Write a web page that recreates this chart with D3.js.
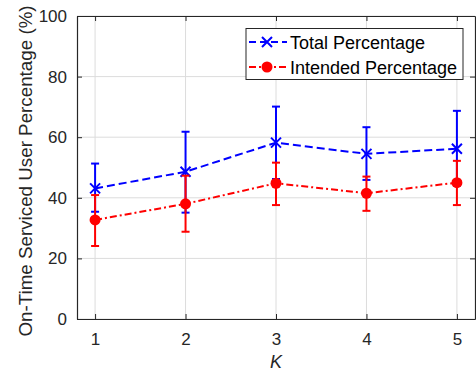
<!DOCTYPE html>
<html>
<head>
<meta charset="utf-8">
<script src="https://cdn.jsdelivr.net/npm/d3@7"></script>
<style>
  body { margin: 0; background: #fff; }
  svg { display: block; font-family: "Liberation Sans", Arial, Helvetica, sans-serif; }
</style>
</head>
<body>
<svg id="chart"></svg>
<script>
var kValues = [1, 2, 3, 4, 5];
var xTicks = [1, 2, 3, 4, 5];
var yTicks = [0, 20, 40, 60, 80, 100];

// total percentage: mean, lower, upper
var totalMean = [43.1, 48.6, 58.2, 54.5, 56.2];
var totalLow = [35.4, 35.1, 46.2, 45.9, 44.0];
var totalHigh = [51.3, 61.8, 70.1, 63.3, 68.7];

// intended percentage: mean, lower, upper
var intendedMean = [32.7, 38.0, 44.8, 41.5, 45.0];
var intendedLow = [24.1, 28.8, 37.6, 35.7, 37.6];
var intendedHigh = [40.9, 47.3, 51.6, 47.0, 52.2];

var seriesNames = ['Total Percentage', 'Intended Percentage'];

var width = 476,
    height = 373,
    plotLeft = 77,
    plotRight = 475,
    plotTop = 16,
    plotBottom = 319,
    axisColor = '#262626',
    gridColor = '#dcdcdc';

var svg = d3.select('#chart')
    .attr('width', width)
    .attr('height', height);

var x = d3.scaleLinear().domain([0.8, 5.2]).range([plotLeft, plotRight]);
var y = d3.scaleLinear().domain([0, 100]).range([plotBottom, plotTop]);

// grid
svg.append('g')
    .selectAll('line')
    .data(xTicks)
    .join('line')
    .attr('x1', function (d) { return x(d); })
    .attr('x2', function (d) { return x(d); })
    .attr('y1', plotTop)
    .attr('y2', plotBottom)
    .attr('stroke', gridColor)
    .attr('stroke-width', 1);

svg.append('g')
    .selectAll('line')
    .data(yTicks)
    .join('line')
    .attr('x1', plotLeft)
    .attr('x2', plotRight)
    .attr('y1', function (d) { return y(d); })
    .attr('y2', function (d) { return y(d); })
    .attr('stroke', gridColor)
    .attr('stroke-width', 1);

// axes (inward ticks, box)
svg.append('g')
    .attr('transform', 'translate(0,' + plotBottom + ')')
    .call(d3.axisBottom(x).tickValues(xTicks).tickFormat(d3.format('d'))
        .tickSizeInner(-5).tickSizeOuter(0).tickPadding(14));

svg.append('g')
    .attr('transform', 'translate(' + plotLeft + ',0)')
    .call(d3.axisLeft(y).tickValues(yTicks).tickFormat(d3.format('d'))
        .tickSizeInner(-5).tickSizeOuter(0).tickPadding(10));

svg.append('g')
    .attr('transform', 'translate(0,' + plotTop + ')')
    .call(d3.axisTop(x).tickValues(xTicks).tickSizeInner(-5).tickSizeOuter(0).tickFormat(''));

svg.append('g')
    .attr('transform', 'translate(' + plotRight + ',0)')
    .call(d3.axisRight(y).tickValues(yTicks).tickSizeInner(-5).tickSizeOuter(0).tickFormat(''));

svg.selectAll('.domain').attr('stroke', axisColor).attr('stroke-width', 1.2);
svg.selectAll('.tick line').attr('stroke', axisColor);
svg.selectAll('.tick text')
    .attr('fill', axisColor)
    .style('font-size', '17px')
    .style('font-family', '"Liberation Sans", Arial, sans-serif');

// axis labels
svg.append('text')
    .attr('x', x(3))
    .attr('y', 368)
    .attr('text-anchor', 'middle')
    .attr('fill', axisColor)
    .style('font-size', '18px')
    .style('font-style', 'italic')
    .text('K');

svg.append('text')
    .attr('transform', 'translate(32,171) rotate(-90)')
    .attr('text-anchor', 'middle')
    .attr('fill', axisColor)
    .style('font-size', '18.8px')
    .text('On-Time Serviced User Percentage (%)');

function drawErrorBars(low, high, color) {
    var g = svg.append('g');
    g.selectAll('line.bar')
        .data(kValues)
        .join('line')
        .attr('class', 'bar')
        .attr('x1', function (d) { return x(d); })
        .attr('x2', function (d) { return x(d); })
        .attr('y1', function (d, i) { return y(low[i]); })
        .attr('y2', function (d, i) { return y(high[i]); })
        .attr('stroke', color)
        .attr('stroke-width', 2);
    [low, high].forEach(function (arr) {
        g.append('g')
            .selectAll('line')
            .data(kValues)
            .join('line')
            .attr('x1', function (d) { return x(d) - 4; })
            .attr('x2', function (d) { return x(d) + 4; })
            .attr('y1', function (d, i) { return y(arr[i]); })
            .attr('y2', function (d, i) { return y(arr[i]); })
            .attr('stroke', color)
            .attr('stroke-width', 2);
    });
}

var line = d3.line()
    .x(function (d, i) { return x(kValues[i]); })
    .y(function (d) { return y(d); });

// total series
drawErrorBars(totalLow, totalHigh, '#0000ff');
svg.append('path')
    .datum(totalMean)
    .attr('d', line)
    .attr('fill', 'none')
    .attr('stroke', '#0000ff')
    .attr('stroke-width', 2)
    .attr('stroke-dasharray', '8,4');

function crossPath(cx, cy, s) {
    return 'M' + (cx - s) + ',' + (cy - s) + 'L' + (cx + s) + ',' + (cy + s) +
        'M' + (cx - s) + ',' + (cy + s) + 'L' + (cx + s) + ',' + (cy - s);
}

svg.append('g')
    .selectAll('path')
    .data(totalMean)
    .join('path')
    .attr('d', function (d, i) { return crossPath(x(kValues[i]), y(d), 5); })
    .attr('stroke', '#0000ff')
    .attr('stroke-width', 2)
    .attr('fill', 'none');

// intended series
drawErrorBars(intendedLow, intendedHigh, '#ff0000');
svg.append('path')
    .datum(intendedMean)
    .attr('d', line)
    .attr('fill', 'none')
    .attr('stroke', '#ff0000')
    .attr('stroke-width', 2)
    .attr('stroke-dasharray', '7,3,2,3');

svg.append('g')
    .selectAll('circle')
    .data(intendedMean)
    .join('circle')
    .attr('cx', function (d, i) { return x(kValues[i]); })
    .attr('cy', function (d) { return y(d); })
    .attr('r', 5.5)
    .attr('fill', '#ff0000');

// legend
var legend = svg.append('g');
legend.append('rect')
    .attr('x', 246)
    .attr('y', 28.5)
    .attr('width', 217)
    .attr('height', 51)
    .attr('fill', '#fff')
    .attr('stroke', axisColor)
    .attr('stroke-width', 1);

var rowY = [42, 67];
var rowColor = ['#0000ff', '#ff0000'];
var rowDash = ['7,4', '7,3,2,3'];

rowY.forEach(function (ry, i) {
    legend.append('line')
        .attr('x1', 249)
        .attr('x2', 287)
        .attr('y1', ry)
        .attr('y2', ry)
        .attr('stroke', rowColor[i])
        .attr('stroke-width', 2)
        .attr('stroke-dasharray', rowDash[i]);
    if (i === 0) {
        legend.append('path')
            .attr('d', crossPath(267, ry, 5))
            .attr('stroke', rowColor[i])
            .attr('stroke-width', 2);
    } else {
        legend.append('circle')
            .attr('cx', 267)
            .attr('cy', ry)
            .attr('r', 5.5)
            .attr('fill', rowColor[i]);
    }
    legend.append('text')
        .attr('x', 290)
        .attr('y', ry + 6.5)
        .attr('fill', '#000')
        .style('font-size', '18px')
        .text(seriesNames[i]);
});
</script>
</body>
</html>
